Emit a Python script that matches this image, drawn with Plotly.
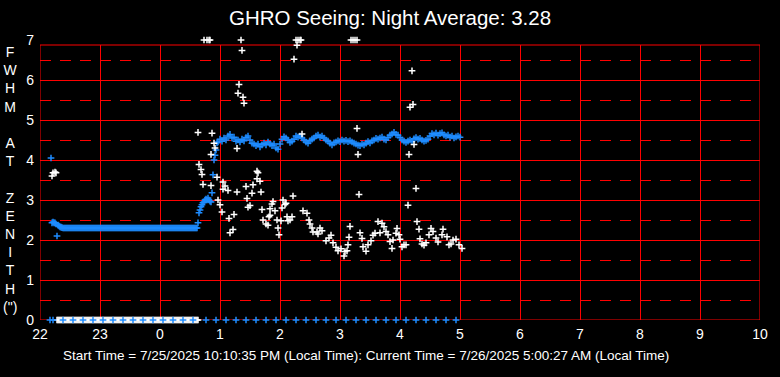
import plotly.graph_objects as go

# ---------------- data ----------------
# x positions are minutes after 22:00 local time
hour_ticks = [0, 60, 120, 180, 240, 300, 360, 420, 480, 540, 600, 660, 720]
hour_labels = ['22', '23', '0', '1', '2', '3', '4', '5', '6', '7', '8', '9', '10']
fwhm_ticks = [0, 1, 2, 3, 4, 5, 6, 7]
fwhm_half = [0.5, 1.5, 2.5, 3.5, 4.5, 5.5, 6.5]
frame_top = 6.875  # top edge of the drawn frame

# white series: measured seeing (FWHM at zenith, arcsec)
white_t = [12, 13, 15, 16,
           158, 159, 161, 162, 163, 164, 167, 169, 170, 171,
           171, 172, 174, 175, 177, 178, 180, 182, 183, 183,
           185, 188, 189, 190, 193, 194, 197, 197, 198, 199,
           201, 202, 203, 204, 206, 207, 208, 210, 212, 213,
           217, 217, 218, 220, 221, 222, 223, 226, 228, 229,
           230, 230, 232, 233, 235, 237, 238, 239, 241, 242,
           243, 245, 246, 247, 248, 250, 252, 253, 254, 256,
           257, 258, 260, 261, 262, 263, 267, 269, 270, 272,
           273, 277, 278, 280, 282, 286, 289, 291, 293, 296,
           298, 301, 304, 305, 307, 308, 309, 310, 311, 313,
           315, 317, 317, 318, 319, 320, 322, 323, 326, 328,
           331, 333, 335, 338, 340, 342, 344, 346, 348, 350,
           352, 353, 356, 357, 359, 360, 362, 364, 366, 368,
           369, 370, 372, 373, 374, 376, 377, 379, 380, 382,
           384, 386, 389, 391, 393, 396, 398, 402, 403, 407,
           409, 411, 413, 416, 419, 422]
white_v = [3.6, 3.68, 3.7, 3.68,
           4.69, 3.89, 3.76, 3.64, 3.39, 7, 7, 7, 7, 4.14,
           3.36, 4.67, 4.42, 4.3, 3.57, 3.0, 2.88, 2.7, 3.45, 3.27,
           3.35, 3.24, 2.54, 2.18, 2.26, 2.64, 4.29, 3.2, 5.67, 5.89,
           7, 6.74, 5.57, 5.42, 3.34, 3.04, 2.82, 2.86, 3.17, 3.38,
           3.72, 3.53, 3.68, 3.47, 3.2, 2.76, 2.5, 2.4, 2.37, 2.58,
           2.78, 2.62, 2.9, 2.96, 2.73, 2.5, 2.3, 2.13, 2.48, 2.8,
           3.0, 2.89, 2.92, 2.58, 2.48, 2.5, 2.58, 3.1, 6.52, 7,
           6.87, 7, 7, 7, 4.65, 2.73, 2.67, 2.5, 2.4, 2.3,
           2.2, 2.2, 2.15, 2.3, 2.23, 1.98, 2.05, 2.12, 1.93, 1.82,
           1.73, 1.78, 1.6, 1.71, 1.73, 1.88, 2.07, 2.34, 7, 7,
           7, 7, 4.79, 4.14, 3.14, 2.18, 2.04, 1.83, 1.72, 1.88,
           1.98, 2.12, 2.17, 2.46, 2.18, 2.42, 2.33, 2.21, 2.13, 1.96,
           1.79, 2.0, 2.17, 2.29, 2.13, 2.02, 1.83, 1.88, 1.88, 2.87,
           4.14, 5.32, 6.23, 5.39, 4.39, 3.29, 2.46, 2.27, 2.03, 1.9,
           1.87, 1.93, 2.13, 2.29, 2.21, 2.05, 1.95, 2.13, 2.27, 2.08,
           1.88, 1.9, 2.0, 2.02, 1.88, 1.79]

# white samples recorded as zero (no measurement)
white_zero_t = [17, 18, 19, 20, 21, 22, 23, 24, 25, 26,
                27, 28, 29, 30, 31, 32, 33, 34, 35, 36,
                37, 38, 39, 40, 41, 42, 43, 44, 45, 46,
                47, 48, 49, 50, 51, 52, 53, 54, 55, 56,
                57, 58, 59, 60, 61, 62, 63, 64, 65, 66,
                67, 68, 69, 70, 71, 72, 73, 74, 75, 76,
                77, 78, 79, 80, 81, 82, 83, 84, 85, 86,
                87, 88, 89, 90, 91, 92, 93, 94, 95, 96,
                97, 98, 99, 100, 101, 102, 103, 104, 105, 106,
                107, 108, 109, 110, 111, 112, 113, 114, 115, 116,
                117, 118, 119, 120, 121, 122, 123, 124, 125, 126,
                127, 128, 129, 130, 131, 132, 133, 134, 135, 136,
                137, 138, 139, 140, 141, 142, 143, 144, 145, 146,
                147, 148, 149, 150, 151, 152, 153, 154, 155, 156,
                157, 158]
white_zero_v = [0, 0, 0, 0, 0, 0, 0, 0, 0, 0,
                0, 0, 0, 0, 0, 0, 0, 0, 0, 0,
                0, 0, 0, 0, 0, 0, 0, 0, 0, 0,
                0, 0, 0, 0, 0, 0, 0, 0, 0, 0,
                0, 0, 0, 0, 0, 0, 0, 0, 0, 0,
                0, 0, 0, 0, 0, 0, 0, 0, 0, 0,
                0, 0, 0, 0, 0, 0, 0, 0, 0, 0,
                0, 0, 0, 0, 0, 0, 0, 0, 0, 0,
                0, 0, 0, 0, 0, 0, 0, 0, 0, 0,
                0, 0, 0, 0, 0, 0, 0, 0, 0, 0,
                0, 0, 0, 0, 0, 0, 0, 0, 0, 0,
                0, 0, 0, 0, 0, 0, 0, 0, 0, 0,
                0, 0, 0, 0, 0, 0, 0, 0, 0, 0,
                0, 0, 0, 0, 0, 0, 0, 0, 0, 0,
                0, 0]

# blue series
blue_t = [11, 12, 13, 14, 15, 16, 17, 18, 19, 20, 21, 22,
          23, 24, 25, 26, 27, 28, 29, 30, 31, 32,
          33, 34, 35, 36, 37, 38, 39, 40, 41, 42,
          43, 44, 45, 46, 47, 48, 49, 50, 51, 52,
          53, 54, 55, 56, 57, 58, 59, 60, 61, 62,
          63, 64, 65, 66, 67, 68, 69, 70, 71, 72,
          73, 74, 75, 76, 77, 78, 79, 80, 81, 82,
          83, 84, 85, 86, 87, 88, 89, 90, 91, 92,
          93, 94, 95, 96, 97, 98, 99, 100, 101, 102,
          103, 104, 105, 106, 107, 108, 109, 110, 111, 112,
          113, 114, 115, 116, 117, 118, 119, 120, 121, 122,
          123, 124, 125, 126, 127, 128, 129, 130, 131, 132,
          133, 134, 135, 136, 137, 138, 139, 140, 141, 142,
          143, 144, 145, 146, 147, 148, 149, 150, 151, 152,
          153, 154, 155, 156,
          157, 158, 159, 160, 161, 162, 163, 164, 165, 166,
          167, 168, 169, 170, 171, 172, 173, 174, 175, 176, 177,
          178, 180, 182, 184, 186, 188, 190, 192, 194, 196,
          198, 200, 202, 204, 206, 208, 210, 212, 214, 216,
          218, 220, 222, 224, 226, 228, 230, 232, 234, 236,
          238, 240, 242, 244, 246, 248, 250, 252, 254, 256,
          258, 260, 262, 264, 266, 268, 270, 272, 274, 276,
          278, 280, 282, 284, 286, 288, 290, 292, 294, 296,
          298, 300, 302, 304, 306, 308, 310, 312, 314, 316,
          318, 320, 322, 324, 326, 328, 330, 332, 334, 336,
          338, 340, 342, 344, 346, 348, 350, 352, 354, 356,
          358, 360, 362, 364, 366, 368, 370, 372, 374, 376,
          378, 380, 382, 384, 386, 388, 390, 392, 394, 396,
          398, 400, 402, 404, 406, 408, 410, 412, 414, 416,
          418, 420]
blue_v = [4.05, 2.43, 2.45, 2.43, 2.43, 2.4, 2.1, 2.37, 2.35, 2.33, 2.32, 2.31,
          2.3, 2.3, 2.3, 2.3, 2.3, 2.3, 2.3, 2.3, 2.3, 2.3,
          2.3, 2.3, 2.3, 2.3, 2.3, 2.3, 2.3, 2.3, 2.3, 2.3,
          2.3, 2.3, 2.3, 2.3, 2.3, 2.3, 2.3, 2.3, 2.3, 2.3,
          2.3, 2.3, 2.3, 2.3, 2.3, 2.3, 2.3, 2.3, 2.3, 2.3,
          2.3, 2.3, 2.3, 2.3, 2.3, 2.3, 2.3, 2.3, 2.3, 2.3,
          2.3, 2.3, 2.3, 2.3, 2.3, 2.3, 2.3, 2.3, 2.3, 2.3,
          2.3, 2.3, 2.3, 2.3, 2.3, 2.3, 2.3, 2.3, 2.3, 2.3,
          2.3, 2.3, 2.3, 2.3, 2.3, 2.3, 2.3, 2.3, 2.3, 2.3,
          2.3, 2.3, 2.3, 2.3, 2.3, 2.3, 2.3, 2.3, 2.3, 2.3,
          2.3, 2.3, 2.3, 2.3, 2.3, 2.3, 2.3, 2.3, 2.3, 2.3,
          2.3, 2.3, 2.3, 2.3, 2.3, 2.3, 2.3, 2.3, 2.3, 2.3,
          2.3, 2.3, 2.3, 2.3, 2.3, 2.3, 2.3, 2.3, 2.3, 2.3,
          2.3, 2.3, 2.3, 2.3, 2.3, 2.3, 2.3, 2.3, 2.3, 2.3,
          2.3, 2.3, 2.3, 2.3,
          2.3, 2.43, 2.68, 2.75, 2.83, 2.88, 2.93, 2.95, 3.0, 3.02,
          3.0, 3.05, 3.0, 2.97, 2.95, 3.18, 3.63, 4.0, 4.12, 4.25, 4.43,
          4.45, 4.52, 4.47, 4.55, 4.5, 4.6, 4.64, 4.55, 4.57, 4.47,
          4.5, 4.45, 4.52, 4.48, 4.56, 4.6, 4.5, 4.42, 4.4, 4.36,
          4.4, 4.33, 4.38, 4.42, 4.38, 4.45, 4.4, 4.36, 4.4, 4.3,
          4.27, 4.4, 4.52, 4.58, 4.55, 4.5, 4.44, 4.47, 4.52, 4.6,
          4.57, 4.6, 4.55, 4.5, 4.45, 4.42, 4.48, 4.52, 4.55, 4.6,
          4.62, 4.57, 4.6, 4.55, 4.5, 4.47, 4.42, 4.38, 4.43, 4.45,
          4.48, 4.46, 4.5, 4.47, 4.49, 4.46, 4.48, 4.45, 4.42, 4.4,
          4.37, 4.36, 4.4, 4.38, 4.42, 4.46, 4.43, 4.48, 4.5, 4.54,
          4.52, 4.55, 4.57, 4.52, 4.5, 4.56, 4.62, 4.65, 4.69, 4.64,
          4.62, 4.56, 4.5, 4.47, 4.44, 4.47, 4.5, 4.46, 4.53, 4.56,
          4.52, 4.54, 4.5, 4.47, 4.49, 4.52, 4.6, 4.66, 4.63, 4.67,
          4.62, 4.66, 4.68, 4.63, 4.6, 4.62, 4.57, 4.6, 4.55, 4.58,
          4.6, 4.57]

# blue samples recorded as zero
blue_zero_t = [10, 13, 23, 33, 43, 53, 63, 73, 83, 93, 103, 113, 123, 133, 143, 153,
               166, 176, 186, 196, 206, 216, 226, 236, 246, 256, 266, 276, 286, 296,
               306, 316, 326, 336, 346, 356, 366, 376, 386, 396, 406, 416]
blue_zero_v = [0, 0, 0, 0, 0, 0, 0, 0, 0, 0, 0, 0, 0, 0, 0, 0,
               0, 0, 0, 0, 0, 0, 0, 0, 0, 0, 0, 0, 0, 0,
               0, 0, 0, 0, 0, 0, 0, 0, 0, 0, 0, 0]

title_text = "GHRO Seeing: Night Average: 3.28"
y_title_letters = ['F', 'W', 'H', 'M', '\u00a0', 'A', 'T', '\u00a0',
                   'Z', 'E', 'N', 'I', 'T', 'H', '(")']
footer_text = ("Start Time = 7/25/2025 10:10:35 PM (Local Time): "
               "Current Time = 7/26/2025 5:00:27 AM (Local Time)")

# ---------------- figure ----------------
FONT = "Liberation Sans, Arial, sans-serif"
WHITE = "#ffffff"
BLUE = "#1e8cff"
RED = "#ff0000"

marker_white = dict(symbol="cross-thin", size=4.8, line=dict(color=WHITE, width=1.5), color=WHITE)
marker_blue = dict(symbol="cross-thin", size=4.8, line=dict(color=BLUE, width=1.5), color=BLUE)

fig = go.Figure()
fig.add_trace(go.Scatter(x=blue_t, y=blue_v, mode="markers", marker=marker_blue,
                         cliponaxis=False, showlegend=False, hoverinfo="skip"))
fig.add_trace(go.Scatter(x=white_zero_t, y=white_zero_v, mode="markers", marker=marker_white,
                         cliponaxis=False, showlegend=False, hoverinfo="skip"))
fig.add_trace(go.Scatter(x=white_t, y=white_v, mode="markers", marker=marker_white,
                         cliponaxis=False, showlegend=False, hoverinfo="skip"))
fig.add_trace(go.Scatter(x=blue_zero_t, y=blue_zero_v, mode="markers", marker=marker_blue,
                         cliponaxis=False, showlegend=False, hoverinfo="skip"))

PLOT_L, PLOT_R, PLOT_T, PLOT_B = 40, 760, 40, 320
W, H = 780, 377

fig.update_layout(
    template="none",
    width=W, height=H,
    margin=dict(l=PLOT_L, r=W - PLOT_R, t=PLOT_T, b=H - PLOT_B, pad=0, autoexpand=False),
    paper_bgcolor="black", plot_bgcolor="black",
    font=dict(family=FONT, color=WHITE, size=14),
    title=dict(text=title_text, x=0.5, xanchor="center", y=1 - 18 / H, yanchor="middle",
               yref="container", font=dict(size=20.5, color=WHITE, family=FONT)),
    showlegend=False,
)
fig.update_xaxes(
    range=[0, 720], tickmode="array", tickvals=hour_ticks, ticktext=hour_labels,
    showgrid=True, gridcolor=RED, gridwidth=1, zeroline=False,
    showline=False, automargin=False,
    ticks="", ticklabelstandoff=4, tickfont=dict(size=14, color=WHITE, family=FONT),
)
fig.update_yaxes(
    range=[0, 7], tickmode="array", tickvals=fwhm_ticks,
    showgrid=True, gridcolor=RED, gridwidth=1, zeroline=False,
    showline=False, automargin=False,
    ticks="", ticklabelstandoff=5, tickfont=dict(size=14, color=WHITE, family=FONT),
    minor=dict(tickmode="array", tickvals=fwhm_half, showgrid=True,
               gridcolor=RED, gridwidth=1, griddash="11px,9px", ticks=""),
)

# hide grid above the frame, then draw the red frame (both beneath the markers)
fig.add_shape(type="rect", xref="x", yref="y", x0=0, x1=720, y0=frame_top, y1=7.2,
              fillcolor="black", line=dict(width=0), layer="between")
fig.add_shape(type="rect", xref="x", yref="y", x0=0, x1=720, y0=0, y1=frame_top,
              fillcolor="rgba(0,0,0,0)", line=dict(color=RED, width=1), layer="between")

# vertical axis title (stacked letters)
fig.add_annotation(text="<br>".join(y_title_letters), xref="paper", yref="paper",
                   x=(11 - PLOT_L) / (PLOT_R - PLOT_L), y=(PLOT_B - 179) / (PLOT_B - PLOT_T),
                   xanchor="center", yanchor="middle", showarrow=False,
                   font=dict(size=14, color=WHITE, family=FONT))
# footer
fig.add_annotation(text=footer_text, xref="paper", yref="paper",
                   x=(366 - PLOT_L) / (PLOT_R - PLOT_L), y=(PLOT_B - 355) / (PLOT_B - PLOT_T),
                   xanchor="center", yanchor="middle", showarrow=False,
                   font=dict(size=13.5, color=WHITE, family=FONT))

fig.write_html("out.html", config={"displayModeBar": False},
               post_script="document.body.style.margin='0px';")
